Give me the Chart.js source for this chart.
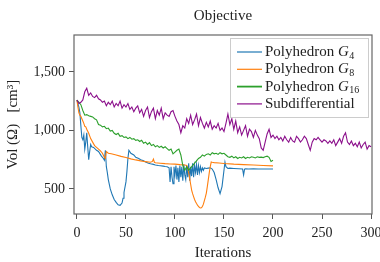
<!DOCTYPE html>
<html>
<head>
<meta charset="utf-8">
<script src="https://cdn.jsdelivr.net/npm/chart.js@4.4.1/dist/chart.umd.min.js"></script>
<style>
  html, body { margin: 0; padding: 0; background: #fff; }
</style>
</head>
<body>
<canvas id="chart" width="380" height="262"></canvas>
<script>
// ---- data ----
const xTicks = [0, 50, 100, 150, 200, 250, 300];
const yTicks = [500, 1000, 1500];

const chartTitle = 'Objective';
const legendNames = ['Polyhedron ', 'Polyhedron ', 'Polyhedron ', 'Subdifferential'];
const legendSubs = ['4', '8', '16', null];

const g4Iter = [0,2,3,4,5,6,7,8,9,10,11,12,13,14,15,17,20,22,25,27,28,29,30,31,32,34,36,38,40,42,44,46,47,48,50,51,52,53,55,58,60,63,65,68,70,73,75,78,80,83,85,88,90,92,94,95,96,97,98,99,100,101,102,103,104,105,106,107,108,109,110,111,112,113,114,115,116,117,118,119,120,121,122,123,124,125,126,127,128,129,130,132,134,136,138,140,142,144,146,148,150,151,152,154,156,160,165,169,170,171,172,175,180,185,190,195,200];
const g4Vol = [1259,1200,1150,1040,940,920,960,840,900,980,860,750,820,880,860,855,830,820,780,760,745,830,690,640,580,500,450,410,385,365,360,380,420,470,560,650,760,830,805,790,770,760,750,740,730,720,715,710,705,700,698,695,692,690,680,560,690,600,545,690,620,700,580,680,560,700,600,690,570,710,620,580,700,600,720,570,690,610,720,600,700,640,710,620,700,640,690,650,680,660,680,675,678,680,670,640,580,510,460,520,660,730,690,675,678,675,672,670,620,670,673,670,672,670,671,670,670];

const g8Iter = [0,1,2,3,4,5,6,7,8,9,10,12,14,16,18,20,22,24,26,28,29,30,32,35,40,45,50,55,60,65,70,75,77,78,79,80,85,90,95,100,105,110,112,113,114,115,116,117,118,119,120,121,122,123,124,125,126,127,128,129,130,131,132,133,134,135,136,137,138,140,145,150,160,170,180,190,200];
const g8Vol = [1259,1200,1150,1130,1120,1100,1080,1060,1035,1030,1010,975,930,900,870,855,840,825,805,770,760,820,805,800,790,778,768,757,748,740,733,728,735,755,728,724,720,716,713,712,708,705,700,680,640,590,540,490,460,435,410,390,375,362,350,342,338,340,350,370,400,430,465,520,580,640,690,730,728,725,722,718,712,708,704,700,697];

// iterations 0, 2, 4, ... (G16 uses the first 101, subdifferential all 151)
const evenIter = Array.from({ length: 151 }, (_, i) => i * 2);

const g16Vol = [1259,1240,1220,1170,1130,1135,1125,1120,1115,1100,1090,1050,1045,1030,1035,1015,1020,995,1000,975,965,975,950,955,940,945,930,940,925,930,915,920,905,915,890,900,880,895,870,880,860,870,855,865,850,860,845,830,840,800,815,830,840,790,700,660,690,660,680,700,720,740,760,770,790,780,795,800,790,810,800,805,795,810,800,805,790,775,770,780,765,775,760,770,765,775,760,770,765,775,770,765,775,770,772,768,775,780,770,735,745];

const subVol = [1259,1230,1240,1260,1330,1360,1300,1320,1290,1280,1300,1270,1260,1240,1250,1210,1240,1220,1250,1200,1230,1210,1250,1190,1220,1200,1230,1180,1200,1160,1190,1210,1150,1180,1120,1170,1200,1110,1160,1190,1100,1170,1130,1190,1100,1150,1130,1120,1160,1170,1120,1080,1050,980,1040,1020,1100,1060,1130,1050,1090,1140,1040,1110,1060,1020,1070,1030,1080,1010,1040,1020,1060,1000,1020,990,1060,1140,1050,1100,1010,1080,980,1030,960,1000,1040,950,1010,990,940,1000,960,930,850,830,900,970,1010,940,960,930,950,920,940,910,950,920,900,940,910,900,950,930,900,920,950,930,880,830,900,930,920,940,920,900,920,910,890,910,890,920,870,900,930,890,950,980,900,880,910,870,890,860,900,850,880,900,840,870,860];

const seriesColors = ['#1f77b4', '#ff7f0e', '#2ca02c', '#8b0f8b'];

function pts(xs, ys) {
  return ys.map((y, i) => ({ x: xs[i], y }));
}

const serif = '"Liberation Serif", "DejaVu Serif", serif';
const textColor = '#222';

// frame around the plot, title over the plot area, legend in the top right corner
const framePlugin = {
  id: 'frame',
  afterDatasetsDraw(chart) {
    const { ctx, chartArea: a } = chart;
    ctx.save();
    ctx.strokeStyle = '#666';
    ctx.lineWidth = 1.2;
    ctx.strokeRect(a.left, a.top, a.right - a.left, a.bottom - a.top);

    ctx.fillStyle = textColor;
    ctx.font = '15px ' + serif;
    ctx.textAlign = 'center';
    ctx.textBaseline = 'middle';
    ctx.fillText(chartTitle, (a.left + a.right) / 2, 16);
    ctx.textAlign = 'left';

    const bw = 138, bh = 79;
    const bx = a.right - bw - 4, by = a.top + 3;
    ctx.fillStyle = 'rgba(255,255,255,0.85)';
    ctx.fillRect(bx, by, bw, bh);
    ctx.strokeStyle = '#cccccc';
    ctx.lineWidth = 1;
    ctx.strokeRect(bx + 0.5, by + 0.5, bw, bh);

    legendNames.forEach((name, i) => {
      const y = by + 14 + i * 17.3;
      ctx.strokeStyle = seriesColors[i];
      ctx.lineWidth = i === 2 ? 1.8 : 1.2;
      ctx.beginPath();
      ctx.moveTo(bx + 7, y);
      ctx.lineTo(bx + 32, y);
      ctx.stroke();

      let tx = bx + 35;
      ctx.fillStyle = textColor;
      ctx.font = '15px ' + serif;
      ctx.fillText(name, tx, y);
      if (legendSubs[i]) {
        tx += ctx.measureText(name).width;
        ctx.font = 'italic 15px ' + serif;
        ctx.fillText('G', tx, y);
        tx += ctx.measureText('G').width + 0.5;
        ctx.font = '10px ' + serif;
        ctx.fillText(legendSubs[i], tx, y + 4);
      }
    });
    ctx.restore();
  }
};

new Chart(document.getElementById('chart'), {
  type: 'line',
  data: {
    datasets: [
      { label: 'G4', data: pts(g4Iter, g4Vol), borderColor: seriesColors[0], order: 4 },
      { label: 'G8', data: pts(g8Iter, g8Vol), borderColor: seriesColors[1], order: 3 },
      { label: 'G16', data: pts(evenIter, g16Vol), borderColor: seriesColors[2], order: 2 },
      { label: 'Subdifferential', data: pts(evenIter, subVol), borderColor: seriesColors[3], order: 1 }
    ]
  },
  options: {
    responsive: false,
    animation: false,
    elements: {
      line: { borderWidth: 1.1, tension: 0 },
      point: { radius: 0 }
    },
    layout: { padding: { left: 0, right: 8, top: 35, bottom: 0 } },
    plugins: {
      legend: { display: false },
      tooltip: { enabled: false },
      title: { display: false }
    },
    scales: {
      x: {
        type: 'linear',
        min: -3,
        max: 301,
        afterBuildTicks: s => { s.ticks = xTicks.map(v => ({ value: v })); },
        afterFit: s => { s.height = 48; s.paddingLeft = 0; s.paddingRight = 0; },
        grid: { drawOnChartArea: false, tickLength: 5, color: '#555' },
        border: { display: false },
        ticks: { color: textColor, font: { family: serif, size: 14 }, padding: 6, maxRotation: 0 },
        title: {
          display: true,
          text: 'Iterations',
          color: textColor,
          font: { family: serif, size: 15 },
          padding: { top: 0, bottom: 0 }
        }
      },
      y: {
        min: 286,
        max: 1815,
        afterBuildTicks: s => { s.ticks = yTicks.map(v => ({ value: v })); },
        afterFit: s => { s.width = 74; s.paddingTop = 0; s.paddingBottom = 0; },
        grid: { drawOnChartArea: false, tickLength: 5, color: '#555' },
        border: { display: false },
        ticks: {
          color: textColor,
          font: { family: serif, size: 14 },
          padding: 4,
          callback: v => v.toLocaleString('en-US')
        },
        title: {
          display: true,
          text: 'Vol (\u03A9)   [cm\u00B3]',
          color: textColor,
          font: { family: serif, size: 15 },
          padding: { top: 4, bottom: 0 }
        }
      }
    }
  },
  plugins: [framePlugin]
});
</script>
</body>
</html>
